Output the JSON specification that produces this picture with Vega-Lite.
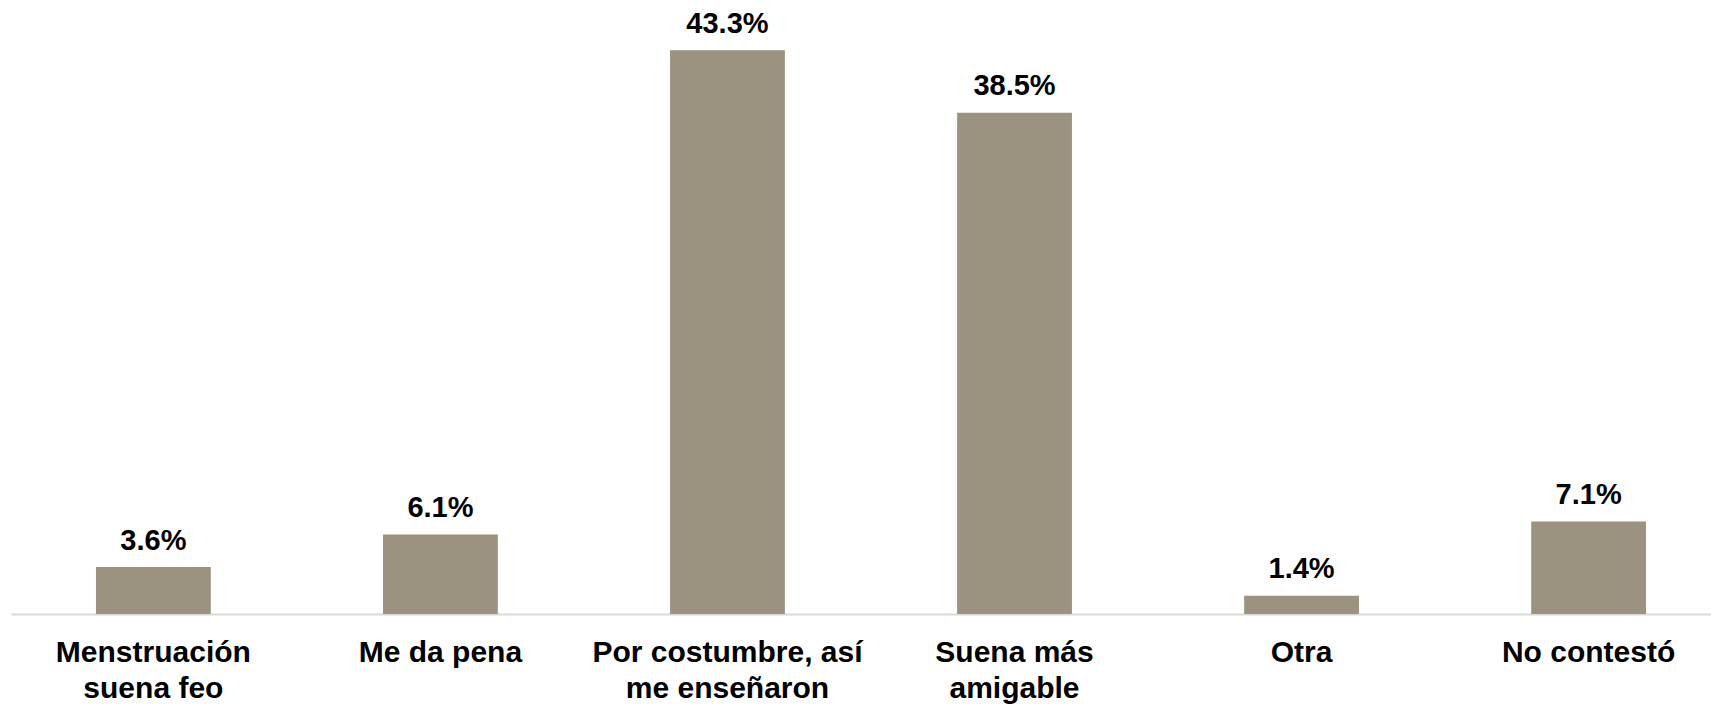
{
  "$schema": "https://vega.github.io/schema/vega-lite/v6.json",
  "width": 1700,
  "height": 586,
  "autosize": {"type": "none"},
  "padding": {"left": 11, "top": 28, "right": 0, "bottom": 90},
  "background": "white",
  "config": {"view": {"stroke": null}, "font": "Liberation Sans"},
  "data": {
    "values": [
      {"categoria": "Menstruación suena feo", "valor": 0.036},
      {"categoria": "Me da pena", "valor": 0.061},
      {"categoria": "Por costumbre, así me enseñaron", "valor": 0.433},
      {"categoria": "Suena más amigable", "valor": 0.385},
      {"categoria": "Otra", "valor": 0.014},
      {"categoria": "No contestó", "valor": 0.071}
    ]
  },
  "encoding": {
    "x": {
      "field": "categoria",
      "type": "nominal",
      "sort": null,
      "scale": {"paddingInner": 0.6, "paddingOuter": 0.296, "range": [0, 1720]},
      "axis": {
        "title": null,
        "labelAngle": 0,
        "ticks": false,
        "domainColor": "#d9d9d9",
        "domainWidth": 2,
        "labelFont": "Liberation Sans",
        "labelFontWeight": "bold",
        "labelFontSize": 30,
        "labelColor": "#000000",
        "labelPadding": 23,
        "labelLineHeight": 36,
        "labelBaseline": "top",
        "labelLimit": 0,
        "labelExpr": "datum.value == 'Menstruación suena feo' ? ['Menstruación', 'suena feo'] : datum.value == 'Por costumbre, así me enseñaron' ? ['Por costumbre, así', 'me enseñaron'] : datum.value == 'Suena más amigable' ? ['Suena más', 'amigable'] : datum.value"
      }
    },
    "y": {
      "field": "valor",
      "type": "quantitative",
      "scale": {"domain": [0, 0.45]},
      "axis": null
    }
  },
  "layer": [
    {"mark": {"type": "bar", "color": "#9b927f"}},
    {
      "mark": {
        "type": "text",
        "baseline": "alphabetic",
        "dy": -17.5,
        "font": "Liberation Sans",
        "fontWeight": "bold",
        "fontSize": 29,
        "color": "#000000"
      },
      "encoding": {"text": {"field": "valor", "type": "quantitative", "format": ".1%"}}
    }
  ]
}
